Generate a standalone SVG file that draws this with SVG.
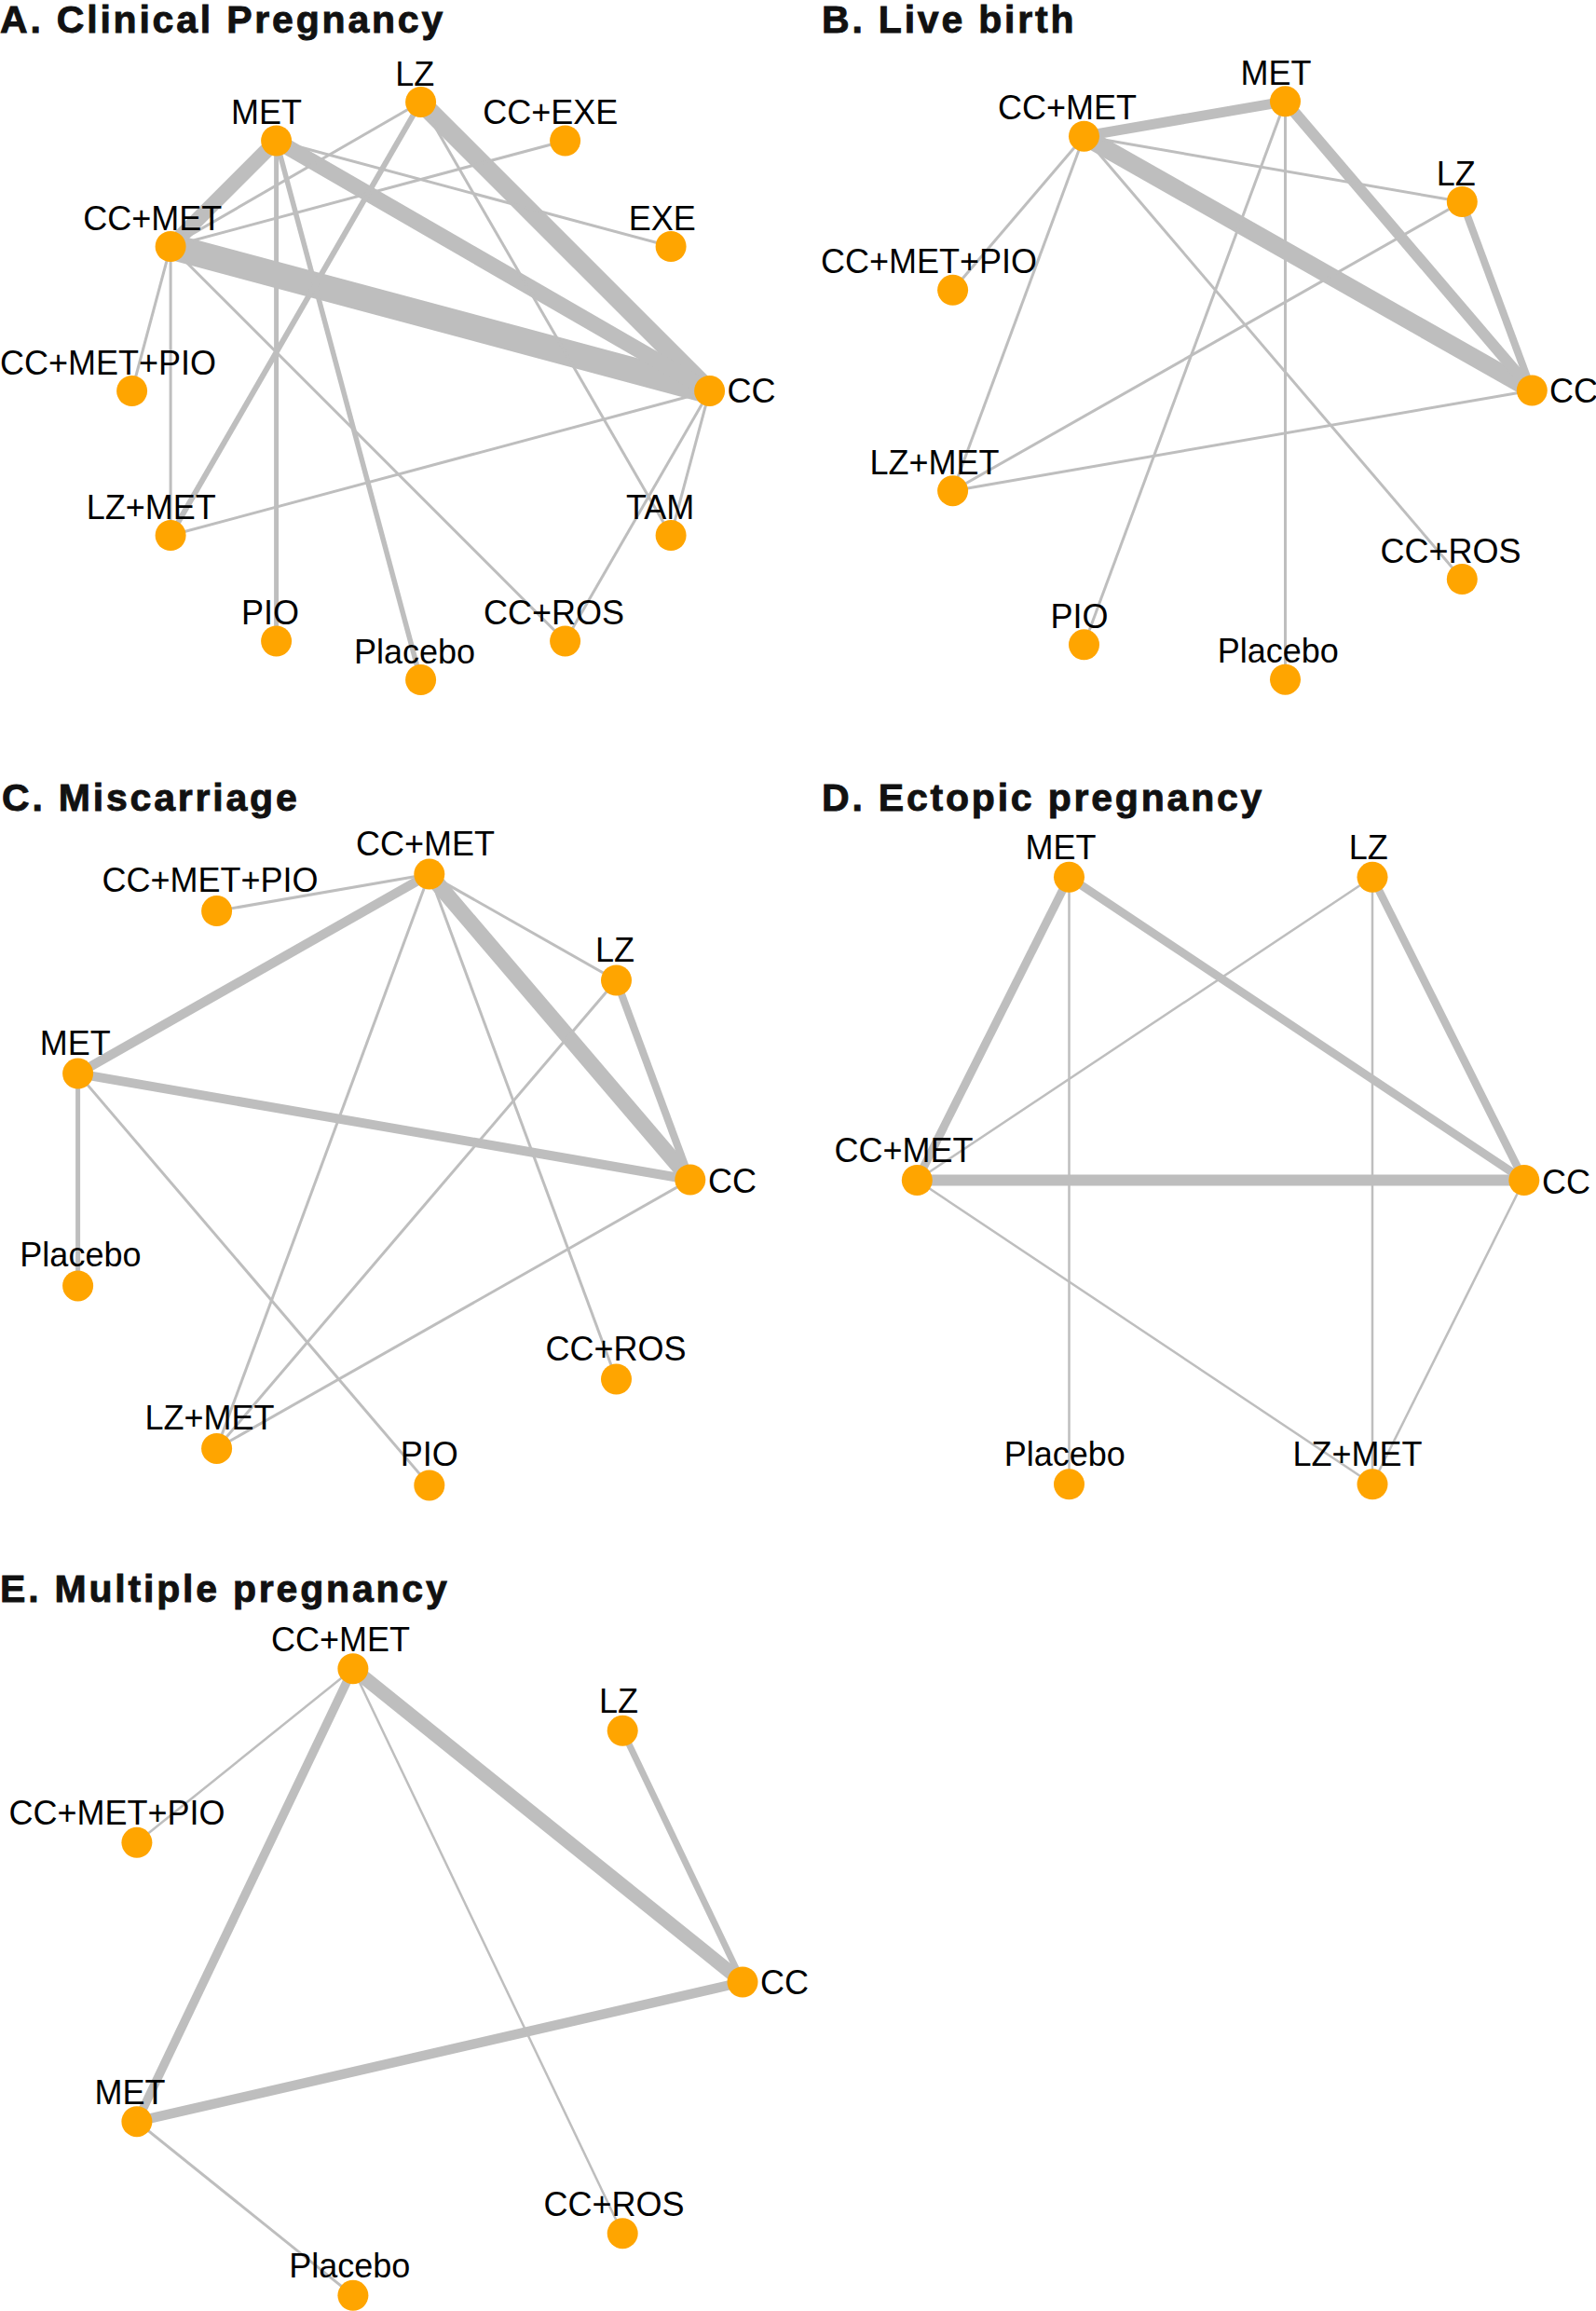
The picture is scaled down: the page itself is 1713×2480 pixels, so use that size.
<svg xmlns="http://www.w3.org/2000/svg" width="1713" height="2480" viewBox="0 0 1713 2480">
<style>
.e line{stroke:#BEBEBE;fill:none}
.n circle{fill:#FFA500}
.n text{font-family:"Liberation Sans",Arial,Helvetica,sans-serif;font-size:36px;fill:#000;text-anchor:middle}
.n text.r{text-anchor:start}
.t{font-family:"Liberation Sans",Arial,Helvetica,sans-serif;font-weight:bold;font-size:41px;letter-spacing:2.8px;fill:#111;stroke:#111;stroke-width:0.9}
</style>
<rect width="1713" height="2480" fill="#fff"/>

<!-- Panel A -->
<g id="panelA">
<text class="t" x="0" y="35">A. Clinical Pregnancy</text>
<g id="A-edges" class="e">
<line x1="183.1" y1="264.5" x2="761.6" y2="419.5" stroke-width="28"/>
<line x1="451.6" y1="109.5" x2="761.6" y2="419.5" stroke-width="20"/>
<line x1="296.6" y1="151" x2="761.6" y2="419.5" stroke-width="17"/>
<line x1="296.6" y1="151" x2="183.1" y2="264.5" stroke-width="16"/>
<line x1="451.6" y1="109.5" x2="183.1" y2="574.5" stroke-width="6"/>
<line x1="296.6" y1="151" x2="296.6" y2="688" stroke-width="5"/>
<line x1="296.6" y1="151" x2="451.6" y2="729.5" stroke-width="5.5"/>
<line x1="296.6" y1="151" x2="720.1" y2="264.5" stroke-width="3"/>
<line x1="451.6" y1="109.5" x2="183.1" y2="264.5" stroke-width="3"/>
<line x1="606.6" y1="151" x2="183.1" y2="264.5" stroke-width="3"/>
<line x1="451.6" y1="109.5" x2="720.1" y2="574.5" stroke-width="3"/>
<line x1="183.1" y1="264.5" x2="141.6" y2="419.5" stroke-width="3"/>
<line x1="183.1" y1="264.5" x2="183.1" y2="574.5" stroke-width="3"/>
<line x1="183.1" y1="264.5" x2="606.6" y2="688" stroke-width="3"/>
<line x1="183.1" y1="574.5" x2="761.6" y2="419.5" stroke-width="3"/>
<line x1="761.6" y1="419.5" x2="720.1" y2="574.5" stroke-width="3"/>
<line x1="761.6" y1="419.5" x2="606.6" y2="688" stroke-width="3"/>
</g>
<g id="A-LZ" class="n"><circle cx="451.6" cy="109.5" r="16.5"/><text x="445.3" y="91.5">LZ</text></g>
<g id="A-CCEXE" class="n"><circle cx="606.6" cy="151" r="16.5"/><text x="590.7" y="133">CC+EXE</text></g>
<g id="A-EXE" class="n"><circle cx="720.1" cy="264.5" r="16.5"/><text x="710.7" y="246.5">EXE</text></g>
<g id="A-CC" class="n"><circle cx="761.6" cy="419.5" r="16.5"/><text class="r" x="780.5" y="432">CC</text></g>
<g id="A-TAM" class="n"><circle cx="720.1" cy="574.5" r="16.5"/><text x="708.7" y="556.5">TAM</text></g>
<g id="A-CCROS" class="n"><circle cx="606.6" cy="688" r="16.5"/><text x="594.6" y="670">CC+ROS</text></g>
<g id="A-Placebo" class="n"><circle cx="451.6" cy="729.5" r="16.5"/><text x="445" y="711.5">Placebo</text></g>
<g id="A-PIO" class="n"><circle cx="296.6" cy="688" r="16.5"/><text x="290" y="670">PIO</text></g>
<g id="A-LZMET" class="n"><circle cx="183.1" cy="574.5" r="16.5"/><text x="162.3" y="556.5">LZ+MET</text></g>
<g id="A-CCMETPIO" class="n"><circle cx="141.6" cy="419.5" r="16.5"/><text x="116" y="401.5">CC+MET+PIO</text></g>
<g id="A-CCMET" class="n"><circle cx="183.1" cy="264.5" r="16.5"/><text x="163.7" y="246.5">CC+MET</text></g>
<g id="A-MET" class="n"><circle cx="296.6" cy="151" r="16.5"/><text x="286" y="133">MET</text></g>
</g>

<!-- Panel B -->
<g id="panelB">
<text class="t" x="882" y="35">B. Live birth</text>
<g id="B-edges" class="e">
<line x1="1163.5" y1="146.2" x2="1644.3" y2="419" stroke-width="19"/>
<line x1="1379.5" y1="108.8" x2="1644.3" y2="419" stroke-width="12"/>
<line x1="1163.5" y1="146.2" x2="1379.5" y2="108.8" stroke-width="11"/>
<line x1="1569.3" y1="216.5" x2="1644.3" y2="419" stroke-width="8"/>
<line x1="1163.5" y1="146.2" x2="1569.3" y2="216.5" stroke-width="3"/>
<line x1="1163.5" y1="146.2" x2="1022.6" y2="311.3" stroke-width="3"/>
<line x1="1163.5" y1="146.2" x2="1022.6" y2="526.7" stroke-width="3"/>
<line x1="1163.5" y1="146.2" x2="1569.3" y2="621.5" stroke-width="3"/>
<line x1="1379.5" y1="108.8" x2="1163.5" y2="691.8" stroke-width="3"/>
<line x1="1379.5" y1="108.8" x2="1379.5" y2="729.2" stroke-width="3"/>
<line x1="1569.3" y1="216.5" x2="1022.6" y2="526.7" stroke-width="3"/>
<line x1="1022.6" y1="526.7" x2="1644.3" y2="419" stroke-width="3"/>
</g>
<g id="B-CC" class="n"><circle cx="1644.3" cy="419" r="16.5"/><text class="r" x="1663" y="431.5">CC</text></g>
<g id="B-LZ" class="n"><circle cx="1569.3" cy="216.5" r="16.5"/><text x="1562.8" y="198.5">LZ</text></g>
<g id="B-MET" class="n"><circle cx="1379.5" cy="108.8" r="16.5"/><text x="1369.6" y="90.8">MET</text></g>
<g id="B-CCMET" class="n"><circle cx="1163.5" cy="146.2" r="16.5"/><text x="1145.6" y="128.2">CC+MET</text></g>
<g id="B-CCMETPIO" class="n"><circle cx="1022.6" cy="311.3" r="16.5"/><text x="997" y="293.3">CC+MET+PIO</text></g>
<g id="B-LZMET" class="n"><circle cx="1022.6" cy="526.7" r="16.5"/><text x="1003" y="508.7">LZ+MET</text></g>
<g id="B-PIO" class="n"><circle cx="1163.5" cy="691.8" r="16.5"/><text x="1158.5" y="673.8">PIO</text></g>
<g id="B-Placebo" class="n"><circle cx="1379.5" cy="729.2" r="16.5"/><text x="1371.7" y="711.2">Placebo</text></g>
<g id="B-CCROS" class="n"><circle cx="1569.3" cy="621.5" r="16.5"/><text x="1557" y="603.5">CC+ROS</text></g>
</g>

<!-- Panel C -->
<g id="panelC">
<text class="t" x="2" y="870">C. Miscarriage</text>
<g id="C-edges" class="e">
<line x1="460.8" y1="938.1" x2="740.8" y2="1266" stroke-width="17"/>
<line x1="460.8" y1="938.1" x2="83.6" y2="1152.1" stroke-width="10"/>
<line x1="83.6" y1="1152.1" x2="740.8" y2="1266" stroke-width="10"/>
<line x1="661.5" y1="1052" x2="740.8" y2="1266" stroke-width="8"/>
<line x1="83.6" y1="1152.1" x2="83.6" y2="1379.9" stroke-width="5"/>
<line x1="460.8" y1="938.1" x2="232.6" y2="977.6" stroke-width="3"/>
<line x1="460.8" y1="938.1" x2="661.5" y2="1052" stroke-width="3"/>
<line x1="460.8" y1="938.1" x2="232.6" y2="1554.4" stroke-width="3"/>
<line x1="460.8" y1="938.1" x2="661.5" y2="1480" stroke-width="3"/>
<line x1="83.6" y1="1152.1" x2="460.8" y2="1593.9" stroke-width="3"/>
<line x1="661.5" y1="1052" x2="232.6" y2="1554.4" stroke-width="3"/>
<line x1="232.6" y1="1554.4" x2="740.8" y2="1266" stroke-width="3"/>
</g>
<g id="C-CC" class="n"><circle cx="740.8" cy="1266" r="16.5"/><text class="r" x="760" y="1280">CC</text></g>
<g id="C-LZ" class="n"><circle cx="661.5" cy="1052" r="16.5"/><text x="660" y="1031.5">LZ</text></g>
<g id="C-CCMET" class="n"><circle cx="460.8" cy="938.1" r="16.5"/><text x="456.5" y="917.6">CC+MET</text></g>
<g id="C-CCMETPIO" class="n"><circle cx="232.6" cy="977.6" r="16.5"/><text x="225.5" y="957.1">CC+MET+PIO</text></g>
<g id="C-MET" class="n"><circle cx="83.6" cy="1152.1" r="16.5"/><text x="80.7" y="1131.6">MET</text></g>
<g id="C-Placebo" class="n"><circle cx="83.6" cy="1379.9" r="16.5"/><text x="86.4" y="1359.4">Placebo</text></g>
<g id="C-LZMET" class="n"><circle cx="232.6" cy="1554.4" r="16.5"/><text x="225" y="1533.9">LZ+MET</text></g>
<g id="C-PIO" class="n"><circle cx="460.8" cy="1593.9" r="16.5"/><text x="460.7" y="1573.4">PIO</text></g>
<g id="C-CCROS" class="n"><circle cx="661.5" cy="1480" r="16.5"/><text x="661" y="1459.5">CC+ROS</text></g>
</g>

<!-- Panel D -->
<g id="panelD">
<text class="t" x="882" y="870">D. Ectopic pregnancy</text>
<g id="D-edges" class="e">
<line x1="984.3" y1="1266.5" x2="1635.8" y2="1266.5" stroke-width="12"/>
<line x1="1147.5" y1="941.3" x2="984.3" y2="1266.5" stroke-width="9"/>
<line x1="1147.5" y1="941.3" x2="1635.8" y2="1266.5" stroke-width="9"/>
<line x1="1473" y1="941.3" x2="1635.8" y2="1266.5" stroke-width="8.5"/>
<line x1="1473" y1="941.3" x2="984.3" y2="1266.5" stroke-width="2.5"/>
<line x1="1147.5" y1="941.3" x2="1147.5" y2="1592.8" stroke-width="2.5"/>
<line x1="1473" y1="941.3" x2="1473" y2="1592.8" stroke-width="2.5"/>
<line x1="984.3" y1="1266.5" x2="1473" y2="1592.8" stroke-width="2.5"/>
<line x1="1635.8" y1="1266.5" x2="1473" y2="1592.8" stroke-width="2.5"/>
</g>
<g id="D-MET" class="n"><circle cx="1147.5" cy="941.3" r="16.5"/><text x="1138.4" y="921.8">MET</text></g>
<g id="D-LZ" class="n"><circle cx="1473" cy="941.3" r="16.5"/><text x="1468.7" y="921.8">LZ</text></g>
<g id="D-CCMET" class="n"><circle cx="984.3" cy="1266.5" r="16.5"/><text x="970" y="1247">CC+MET</text></g>
<g id="D-CC" class="n"><circle cx="1635.8" cy="1266.5" r="16.5"/><text class="r" x="1655" y="1280.5">CC</text></g>
<g id="D-Placebo" class="n"><circle cx="1147.5" cy="1592.8" r="16.5"/><text x="1142.8" y="1573.3">Placebo</text></g>
<g id="D-LZMET" class="n"><circle cx="1473" cy="1592.8" r="16.5"/><text x="1457" y="1573.3">LZ+MET</text></g>
</g>

<!-- Panel E -->
<g id="panelE">
<text class="t" x="0" y="1719">E. Multiple pregnancy</text>
<g id="E-edges" class="e">
<line x1="378.9" y1="1790.7" x2="797" y2="2127" stroke-width="15"/>
<line x1="378.9" y1="1790.7" x2="146.9" y2="2276.7" stroke-width="9.5"/>
<line x1="146.9" y1="2276.7" x2="797" y2="2127" stroke-width="10.5"/>
<line x1="668.2" y1="1857.3" x2="797" y2="2127" stroke-width="7"/>
<line x1="378.9" y1="1790.7" x2="146.9" y2="1977.3" stroke-width="2.5"/>
<line x1="378.9" y1="1790.7" x2="668.2" y2="2396.7" stroke-width="2.5"/>
<line x1="146.9" y1="2276.7" x2="378.9" y2="2463.3" stroke-width="3"/>
</g>
<g id="E-CCMET" class="n"><circle cx="378.9" cy="1790.7" r="16.5"/><text x="365.5" y="1771.7">CC+MET</text></g>
<g id="E-LZ" class="n"><circle cx="668.2" cy="1857.3" r="16.5"/><text x="664" y="1838.3">LZ</text></g>
<g id="E-CCMETPIO" class="n"><circle cx="146.9" cy="1977.3" r="16.5"/><text x="125.5" y="1958.3">CC+MET+PIO</text></g>
<g id="E-CC" class="n"><circle cx="797" cy="2127" r="16.5"/><text class="r" x="816" y="2140">CC</text></g>
<g id="E-MET" class="n"><circle cx="146.9" cy="2276.7" r="16.5"/><text x="139.5" y="2257.7">MET</text></g>
<g id="E-Placebo" class="n"><circle cx="378.9" cy="2463.3" r="16.5"/><text x="375.3" y="2444.3">Placebo</text></g>
<g id="E-CCROS" class="n"><circle cx="668.2" cy="2396.7" r="16.5"/><text x="659" y="2377.7">CC+ROS</text></g>
</g>
</svg>
